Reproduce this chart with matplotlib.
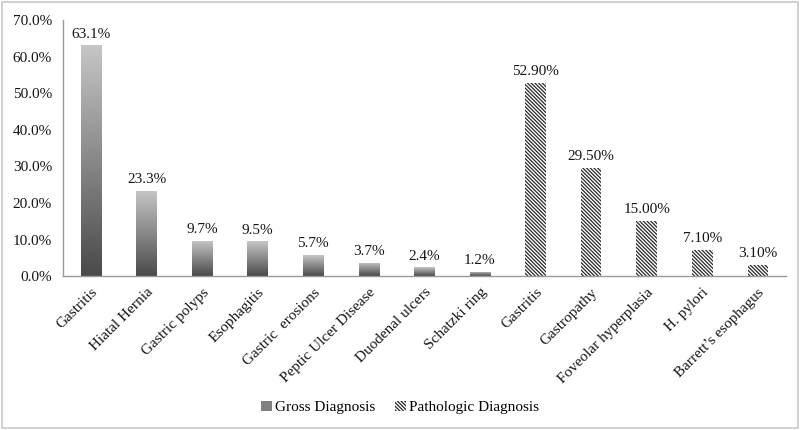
import matplotlib
matplotlib.use("Agg")
import matplotlib.pyplot as plt
import matplotlib.transforms as mtransforms
import numpy as np
from matplotlib.patches import Patch, Rectangle

# ── Data ──────────────────────────────────────────────────
gross_labels = ["Gastritis", "Hiatal Hernia", "Gastric polyps", "Esophagitis",
                "Gastric  erosions", "Peptic Ulcer Disease", "Duodenal ulcers",
                "Schatzki ring"]
gross_values = [63.1, 23.3, 9.7, 9.5, 5.7, 3.7, 2.4, 1.2]

patho_labels = ["Gastritis", "Gastropathy", "Foveolar hyperplasia", "H. pylori",
                "Barrett\u2019s esophagus"]
patho_values = [52.9, 29.5, 15.0, 7.1, 3.1]

y_ticks = [0, 10, 20, 30, 40, 50, 60, 70]

# ── Style ─────────────────────────────────────────────────
plt.rcParams["font.family"] = ["Liberation Serif", "DejaVu Serif"]
plt.rcParams["hatch.linewidth"] = 0.9
TEXT_COLOR = "#151515"
BAR_WIDTH = 0.37
HATCH = "\\" * 9

fig = plt.figure(figsize=(8, 4.3), dpi=100)
ax = fig.add_axes([0.079, 0.358, 0.903, 0.595])

n_gross = len(gross_values)
x_gross = np.arange(n_gross)
x_patho = np.arange(n_gross, n_gross + len(patho_values))

# Gross bars with a vertical grey gradient (dark bottom, light top)
gradient = np.linspace(0, 1, 256).reshape(-1, 1)
cmap = matplotlib.colors.LinearSegmentedColormap.from_list(
    "bar_grey", ["#4a4a4a", "#c6c6c6"])
bars = ax.bar(x_gross, gross_values, width=BAR_WIDTH, color="none",
              edgecolor="none")
for bar in bars:
    x0, y0 = bar.get_x(), bar.get_y()
    w, h = bar.get_width(), bar.get_height()
    img = ax.imshow(gradient, cmap=cmap, aspect="auto", origin="lower",
                    extent=(x0, x0 + w, y0, y0 + h), zorder=2)
    img.set_clip_path(bar)

# Pathologic bars: white with diagonal hatching
ax.bar(x_patho, patho_values, width=BAR_WIDTH, color="white",
       edgecolor="#2a2a2a", linewidth=0, hatch=HATCH, zorder=2)

# Value labels
for x, v in zip(x_gross, gross_values):
    ax.text(x, v + 1.3, f"{v:.1f}%", ha="center", va="bottom",
            fontsize=11, color=TEXT_COLOR)
for x, v in zip(x_patho, patho_values):
    ax.text(x, v + 1.3, f"{v:.2f}%", ha="center", va="bottom",
            fontsize=11, color=TEXT_COLOR)

# Axes
ax.set_xlim(-0.5, n_gross + len(patho_values) - 0.5)
ax.set_ylim(0, 70)
ax.set_yticks(y_ticks)
ax.set_yticklabels([f"{t:.1f}%" for t in y_ticks], fontsize=11,
                   color=TEXT_COLOR)
ax.set_xticks(np.concatenate([x_gross, x_patho]))
ax.set_xticklabels(gross_labels + patho_labels, rotation=45, ha="right",
                   rotation_mode="anchor", fontsize=11, color=TEXT_COLOR)
shift = mtransforms.ScaledTranslation(11 / 100, 0, fig.dpi_scale_trans)
for lbl in ax.get_xticklabels():
    lbl.set_transform(lbl.get_transform() + shift)
ax.tick_params(axis="x", length=0, pad=7)
ax.tick_params(axis="y", length=0, pad=8)
for side in ["top", "right"]:
    ax.spines[side].set_visible(False)
for side in ["left", "bottom"]:
    ax.spines[side].set_color("#999999")
    ax.spines[side].set_linewidth(1)

# Legend at the bottom
handles = [Patch(facecolor="#808080", edgecolor="none", label="Gross Diagnosis"),
           Patch(facecolor="white", edgecolor="#2a2a2a", linewidth=0,
                 hatch=HATCH, label="Pathologic Diagnosis")]
fig.legend(handles=handles, loc="center", bbox_to_anchor=(0.5, 0.052),
           ncol=2, frameon=False, fontsize=11, handlelength=0.7,
           handleheight=0.7, handletextpad=0.2, columnspacing=1.3)

# Light frame around the whole chart
fig.patches.append(Rectangle((0.003, 0.004), 0.994, 0.992,
                             transform=fig.transFigure, fill=False,
                             edgecolor="#c8c8c8", linewidth=1.2))

fig.savefig("out.png", dpi=100)
